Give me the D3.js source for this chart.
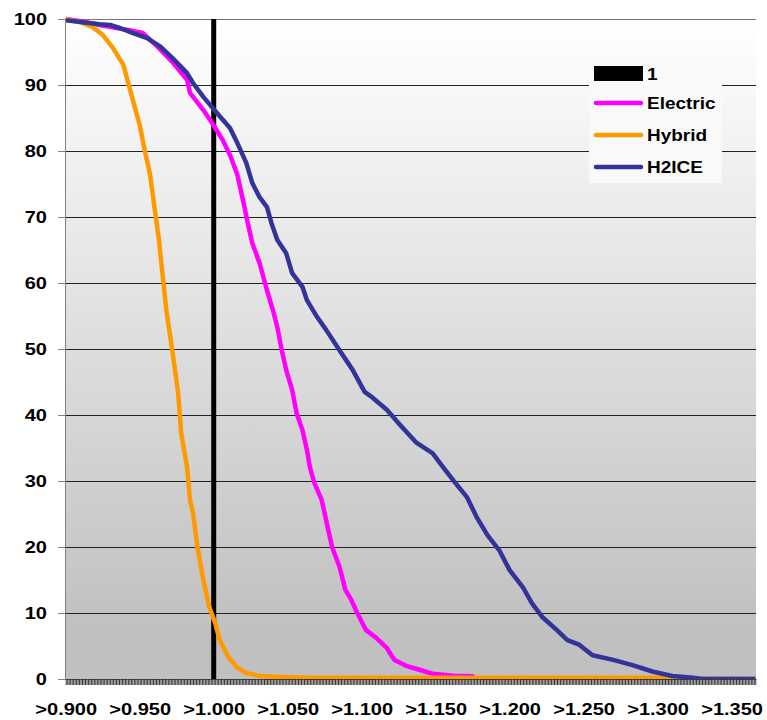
<!DOCTYPE html>
<html>
<head>
<meta charset="utf-8">
<script src="https://cdn.jsdelivr.net/npm/d3@7"></script>
<style>
  body { margin: 0; background: #fff; }
  text { font-family: "Liberation Sans", Arial, sans-serif; font-weight: bold; fill: #000; }
</style>
</head>
<body>
<script>
// categories on the x axis: ">0.900" ... ">1.366", one per 0.001
var categories = d3.range(900, 1367).map(function(d) { return d / 1000; });
var xLabelValues = [0.90, 0.95, 1.00, 1.05, 1.10, 1.15, 1.20, 1.25, 1.30, 1.35];
var xLabels = [">0.900", ">0.950", ">1.000", ">1.050", ">1.100", ">1.150", ">1.200", ">1.250", ">1.300", ">1.350"];
var yTicks = [0, 10, 20, 30, 40, 50, 60, 70, 80, 90, 100];

// column series "1"
var refBar = [{ x: 1.000, value: 100 }];

// % of cases above each ratio
var electric = [
  [0.900, 100], [0.909, 99.7], [0.923, 99.1], [0.943, 98.3], [0.952, 97.9], [0.962, 95.8],
  [0.972, 93.5], [0.982, 90.8], [0.984, 88.8], [0.993, 86.2], [0.999, 84.2], [1.006, 81.7],
  [1.011, 79.4], [1.016, 76.4], [1.020, 72.3], [1.023, 69.1], [1.026, 66.1], [1.031, 63.0],
  [1.036, 58.9], [1.040, 55.9], [1.043, 53.3], [1.046, 49.8], [1.049, 46.8], [1.053, 43.8],
  [1.056, 40.3], [1.060, 37.7], [1.063, 34.7], [1.065, 32.1], [1.068, 29.7], [1.073, 27.1],
  [1.077, 23.0], [1.080, 20.0], [1.085, 17.0], [1.089, 13.5], [1.093, 12.0], [1.097, 10.0],
  [1.103, 7.4], [1.110, 6.2], [1.117, 4.7], [1.122, 2.9], [1.130, 2.0], [1.139, 1.4],
  [1.148, 0.8], [1.162, 0.5], [1.175, 0.4], [1.176, 0], [1.366, 0]
];
var hybrid = [
  [0.900, 100], [0.910, 99.5], [0.918, 98.8], [0.925, 97.6], [0.932, 95.6], [0.939, 93.0],
  [0.942, 90.5], [0.945, 88.0], [0.950, 83.9], [0.953, 80.5], [0.957, 76.4], [0.960, 71.4],
  [0.963, 66.5], [0.966, 60.0], [0.968, 55.9], [0.972, 49.8], [0.976, 43.3], [0.978, 37.3],
  [0.982, 32.1], [0.984, 27.1], [0.986, 25.2], [0.989, 20.0], [0.993, 15.0], [0.997, 10.9],
  [1.001, 8.5], [1.004, 5.9], [1.010, 3.3], [1.016, 1.7], [1.022, 0.9], [1.031, 0.45],
  [1.045, 0.3], [1.065, 0.2], [1.308, 0.2], [1.312, 0], [1.366, 0]
];
var h2ice = [
  [0.900, 99.8], [0.923, 99.2], [0.930, 99.1], [0.937, 98.6], [0.945, 97.9], [0.955, 97.1],
  [0.964, 95.8], [0.972, 94.1], [0.982, 91.8], [0.986, 90.3], [0.993, 88.2], [1.002, 85.8],
  [1.011, 83.5], [1.016, 81.2], [1.022, 78.2], [1.026, 75.2], [1.031, 73.0], [1.036, 71.5],
  [1.039, 69.1], [1.043, 66.5], [1.049, 64.5], [1.053, 61.5], [1.060, 59.4], [1.063, 57.4],
  [1.070, 54.8], [1.076, 52.9], [1.085, 49.8], [1.094, 46.8], [1.102, 43.5], [1.107, 42.7],
  [1.117, 40.8], [1.126, 38.5], [1.137, 35.8], [1.148, 34.2], [1.155, 32.1], [1.163, 29.8],
  [1.171, 27.6], [1.178, 24.4], [1.185, 21.8], [1.193, 19.5], [1.200, 16.5], [1.209, 13.9],
  [1.215, 11.5], [1.222, 9.4], [1.232, 7.4], [1.239, 5.9], [1.247, 5.2], [1.256, 3.6],
  [1.270, 2.9], [1.283, 2.1], [1.297, 1.1], [1.310, 0.45], [1.324, 0.2], [1.330, 0], [1.366, 0]
];

var seriesNames = ["Electric", "Hybrid", "H2ICE"];
var seriesColors = ["#ff00ff", "#ff9900", "#333399"];
var seriesData = [electric, hybrid, h2ice];

var W = 767, H = 720;
var plotLeft = 65, plotRight = 756, plotTop = 19, plotBottom = 679;

var svg = d3.select("body").append("svg")
    .attr("width", W)
    .attr("height", H);

var defs = svg.append("defs");
var grad = defs.append("linearGradient")
    .attr("id", "bg")
    .attr("x1", 0).attr("y1", 0).attr("x2", 0).attr("y2", 1);
grad.append("stop").attr("offset", "0%").attr("stop-color", "#ffffff");
grad.append("stop").attr("offset", "93%").attr("stop-color", "#c0c0c0");
grad.append("stop").attr("offset", "100%").attr("stop-color", "#c0c0c0");

defs.append("clipPath").attr("id", "plotClip")
  .append("rect")
    .attr("x", plotLeft).attr("y", plotTop - 3)
    .attr("width", plotRight - plotLeft + 3).attr("height", plotBottom - plotTop + 3);

var xScale = d3.scaleLinear()
    .domain([categories[0] - 0.0005, categories[categories.length - 1] + 0.0005])
    .range([plotLeft, plotRight]);

var yScale = d3.scaleLinear()
    .domain([0, 100])
    .range([plotBottom, plotTop]);

// plot area
svg.append("rect")
    .attr("x", plotLeft).attr("y", plotTop)
    .attr("width", plotRight - plotLeft).attr("height", plotBottom - plotTop)
    .attr("fill", "url(#bg)");

// gridlines
svg.append("g")
  .selectAll("line")
  .data(yTicks.filter(function(d) { return d > 0; }))
  .enter().append("line")
    .attr("x1", plotLeft).attr("x2", plotRight)
    .attr("y1", function(d) { return Math.round(yScale(d)) + 0.5; })
    .attr("y2", function(d) { return Math.round(yScale(d)) + 0.5; })
    .attr("stroke", function(d) { return d === 100 ? "#777" : "#222"; })
    .attr("stroke-width", 1);

var plot = svg.append("g").attr("clip-path", "url(#plotClip)");

// column "1"
plot.selectAll("rect.bar")
  .data(refBar)
  .enter().append("rect")
    .attr("class", "bar")
    .attr("x", function(d) { return xScale(d.x) - 2.5; })
    .attr("width", 5)
    .attr("y", function(d) { return yScale(d.value); })
    .attr("height", function(d) { return yScale(0) - yScale(d.value); })
    .attr("fill", "#000");

var line = d3.line()
    .x(function(d) { return xScale(d[0]); })
    .y(function(d) { return yScale(d[1]); });

seriesData.forEach(function(s, i) {
  plot.append("path")
    .datum(s)
    .attr("d", line)
    .attr("fill", "none")
    .attr("stroke", seriesColors[i])
    .attr("stroke-width", 4.5)
    .attr("stroke-linejoin", "round");
});

// x axis: minor tick per category
var xAxis = d3.axisBottom(xScale)
    .tickValues(categories)
    .tickSize(6)
    .tickSizeOuter(0)
    .tickFormat("");
var gx = svg.append("g")
    .attr("transform", "translate(0," + plotBottom + ")")
    .call(xAxis);
gx.select(".domain").attr("stroke", "#808080");
gx.selectAll(".tick line").attr("stroke", "#000").attr("stroke-width", 0.8);

var xLab = d3.axisBottom(xScale)
    .tickValues(xLabelValues)
    .tickSize(0)
    .tickFormat(function(d, i) { return xLabels[i]; });
var gxl = svg.append("g")
    .attr("transform", "translate(0," + plotBottom + ")")
    .call(xLab);
gxl.select(".domain").remove();
gxl.selectAll("text")
    .attr("y", 0).attr("dy", 0)
    .attr("transform", "translate(0,36) scale(1.25,1)")
    .style("font-size", "16px");

// y axis
var yAxis = d3.axisLeft(yScale)
    .tickValues(yTicks)
    .tickSize(7)
    .tickSizeOuter(0);
var gy = svg.append("g")
    .attr("transform", "translate(" + plotLeft + ",0)")
    .call(yAxis);
gy.select(".domain").attr("stroke", "#808080");
gy.selectAll(".tick line").attr("stroke", "#808080");
gy.selectAll("text")
    .attr("x", -18 / 1.25)
    .attr("dy", "0.36em")
    .attr("transform", "scale(1.25,1)")
    .style("font-size", "16px");

// legend
var legend = svg.append("g");
legend.append("rect")
    .attr("x", 589).attr("y", 57)
    .attr("width", 133).attr("height", 126)
    .attr("fill", "#f9f9f9");

var legendItems = ["1"].concat(seriesNames);
legendItems.forEach(function(name, i) {
  var cy = i === 0 ? 73.5 : 71 + 32 * i;
  if (i === 0) {
    legend.append("rect")
      .attr("x", 594).attr("y", cy - 7.5)
      .attr("width", 49).attr("height", 15)
      .attr("fill", "#000");
  } else {
    legend.append("line")
      .attr("x1", 596).attr("x2", 641)
      .attr("y1", cy).attr("y2", cy)
      .attr("stroke", seriesColors[i - 1])
      .attr("stroke-width", 4.5)
      .attr("stroke-linecap", "round");
  }
  legend.append("text")
    .attr("transform", "translate(647," + (cy + 6) + ") scale(1.15,1)")
    .style("font-size", "16.5px")
    .text(name);
});
</script>
</body>
</html>
